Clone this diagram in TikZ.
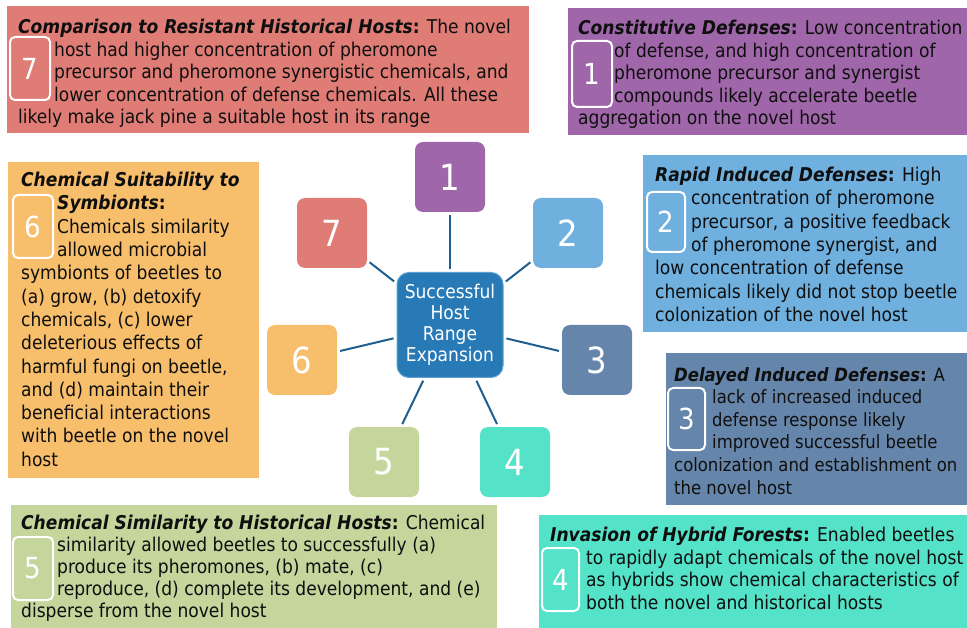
\documentclass[tikz,border=0pt]{standalone}
\usepackage{fontspec}
\setmainfont{DejaVu Sans Condensed}
\usetikzlibrary{calc}
\definecolor{cRed}{RGB}{224,124,118}
\definecolor{cPurple}{RGB}{160,102,170}
\definecolor{cSky}{RGB}{112,176,222}
\definecolor{cSlate}{RGB}{101,133,170}
\definecolor{cTeal}{RGB}{84,226,200}
\definecolor{cGreen}{RGB}{196,214,156}
\definecolor{cOrange}{RGB}{247,190,108}
\definecolor{cHub}{RGB}{40,122,182}
\definecolor{cLink}{RGB}{31,94,142}
\definecolor{cInk}{RGB}{15,15,15}
\newcommand{\ttl}[1]{{\bfseries\itshape #1}\textbf{:}}
\newcommand{\ind}{\hspace*{36pt}}
\begin{document}
\begin{tikzpicture}[x=1pt,y=-1pt]
       \tikzstyle{panel} = [rectangle, inner sep=0pt, anchor=north west];
       \tikzstyle{frame} = [rectangle, draw=white, line width=2pt, rounded corners=5pt, text=white, font=\fontsize{29}{29}\selectfont];
       \tikzstyle{num} = [rectangle, rounded corners=8pt, minimum width=70, minimum height=70, text=white, font=\fontsize{36}{36}\selectfont];
       \tikzstyle{hub} = [rectangle, rounded corners=12pt, fill=cHub, draw=cSky!70!cHub, line width=1pt, minimum width=106, minimum height=105, inner sep=1pt, text=white, align=center, font=\fontsize{19}{21}\selectfont];
       \tikzstyle{link} = [draw=cLink, line width=2pt, shorten >=3pt, shorten <=3pt];
       \tikzstyle{txt} = [anchor=north west, inner sep=0pt, align=left, text=cInk, font=\fontsize{19}{22.5}\selectfont];
       \useasboundingbox (0,0) rectangle (967,628);
       % colour panels
       \node[panel, fill=cRed, minimum width=522, minimum height=127] (p7) at (7,6) {};
       \node[panel, fill=cPurple, minimum width=399, minimum height=127] (p1) at (568,8) {};
       \node[panel, fill=cOrange, minimum width=251, minimum height=316] (p6) at (8,162) {};
       \node[panel, fill=cSky, minimum width=324, minimum height=177] (p2) at (643,155) {};
       \node[panel, fill=cSlate, minimum width=301, minimum height=152] (p3) at (666,353) {};
       \node[panel, fill=cGreen, minimum width=486, minimum height=123] (p5) at (11,505) {};
       \node[panel, fill=cTeal, minimum width=428, minimum height=113] (p4) at (539,515) {};
       % hub and spokes
       \node[hub] (hub) at (450,325) {Successful\\Host\\Range\\Expansion};
       \node[num, fill=cPurple] (n1) at (450,177) {1};
       \node[num, fill=cSky] (n2) at (568,233) {2};
       \node[num, fill=cSlate] (n3) at (597,360) {3};
       \node[num, fill=cTeal] (n4) at (515,462) {4};
       \node[num, fill=cGreen] (n5) at (384,462) {5};
       \node[num, fill=cOrange] (n6) at (302,360) {6};
       \node[num, fill=cRed] (n7) at (332,233) {7};
       \foreach \i in {1,...,7}
         \draw[link] (hub) -- (n\i);
       % number frames
       \node[frame, minimum width=40, minimum height=63] (f7) at (30,68.5) {7};
       \node[frame, minimum width=40, minimum height=66] (f1) at (592,74) {1};
       \node[frame, minimum width=40, minimum height=63] (f6) at (33,226.5) {6};
       \node[frame, minimum width=38, minimum height=60] (f2) at (666,222) {2};
       \node[frame, minimum width=37, minimum height=62] (f3) at (686.5,419) {3};
       \node[frame, minimum width=40, minimum height=63] (f5) at (33,568.5) {5};
       \node[frame, minimum width=37, minimum height=63] (f4) at (560.5,579.5) {4};
       % texts
       \node[txt] (t7) at (18,19) {\ttl{Comparison to Resistant Historical Hosts} The novel\\
         \ind host had higher concentration of pheromone\\
         \ind precursor and pheromone synergistic chemicals, and\\
         \ind lower concentration of defense chemicals. All these\\
         likely make jack pine a suitable host in its range};
       \node[txt] (t1) at (578,20) {\ttl{Constitutive Defenses} Low concentration\\
         \ind of defense, and high concentration of\\
         \ind pheromone precursor and synergist\\
         \ind compounds likely accelerate beetle\\
         aggregation on the novel host};
       \node[txt, font=\fontsize{19}{23.3}\selectfont] (t6) at (21,172) {{\bfseries\itshape Chemical Suitability to}\\
         \ind{\bfseries\itshape Symbionts}\textbf{:}\\
         \ind Chemicals similarity\\
         \ind allowed microbial\\
         symbionts of beetles to\\
         (a) grow, (b) detoxify\\
         chemicals, (c) lower\\
         deleterious effects of\\
         harmful fungi on beetle,\\
         and (d) maintain their\\
         beneficial interactions\\
         with beetle on the novel\\
         host};
       \node[txt, font=\fontsize{19}{23.3}\selectfont] (t2) at (655,167) {\ttl{Rapid Induced Defenses} High\\
         \ind concentration of pheromone\\
         \ind precursor, a positive feedback\\
         \ind of pheromone synergist, and\\
         low concentration of defense\\
         chemicals likely did not stop beetle\\
         colonization of the novel host};
       \node[txt, font=\fontsize{18.3}{22.6}\selectfont] (t3) at (674,367) {\ttl{Delayed Induced Defenses} A\\
         \hspace*{38pt}lack of increased induced\\
         \hspace*{38pt}defense response likely\\
         \hspace*{38pt}improved successful beetle\\
         colonization and establishment on\\
         the novel host};
       \node[txt, font=\fontsize{19}{22}\selectfont] (t5) at (21,515) {\ttl{Chemical Similarity to Historical Hosts} Chemical\\
         \ind similarity allowed beetles to successfully (a)\\
         \ind produce its pheromones, (b) mate, (c)\\
         \ind reproduce, (d) complete its development, and (e)\\
         disperse from the novel host};
       \node[txt] (t4) at (550,527) {\ttl{Invasion of Hybrid Forests} Enabled beetles\\
         \ind to rapidly adapt chemicals of the novel host\\
         \ind as hybrids show chemical characteristics of\\
         \ind both the novel and historical hosts};
     \end{tikzpicture}
\end{document}
